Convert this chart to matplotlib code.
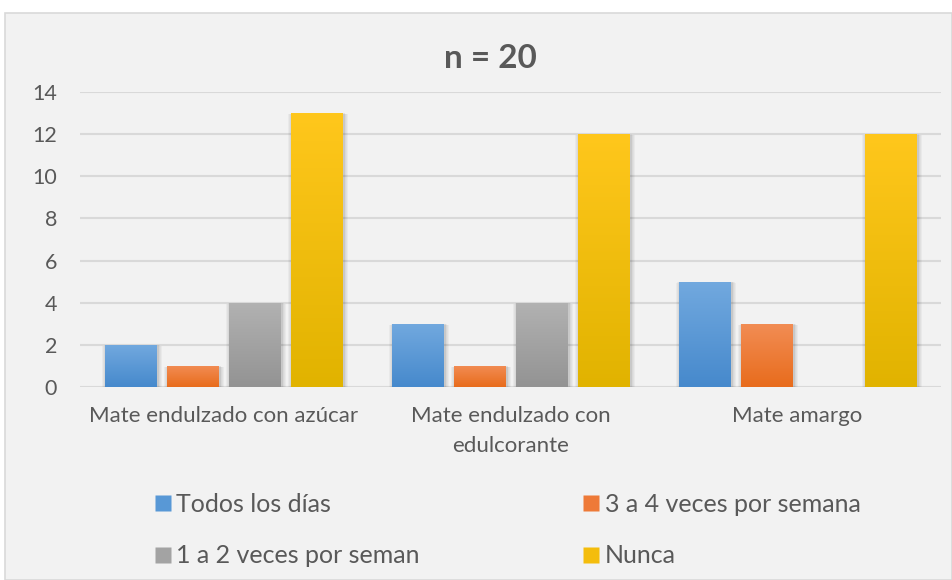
import matplotlib
matplotlib.use("Agg")
import matplotlib.pyplot as plt
import numpy as np
from matplotlib.colors import LinearSegmentedColormap
from matplotlib.patches import Rectangle
from matplotlib.lines import Line2D

plt.rcParams['font.family'] = ['Lato', 'DejaVu Sans']

categories = ["Mate endulzado con azúcar", "Mate endulzado con\nedulcorante", "Mate amargo"]
series_names = ["Todos los días", "3 a 4 veces por semana", "1 a 2 veces por seman", "Nunca"]
todos_los_dias = [2, 3, 5]
tres_a_cuatro = [1, 1, 3]
uno_a_dos = [4, 4, 0]
nunca = [13, 12, 12]
series_values = [todos_los_dias, tres_a_cuatro, uno_a_dos, nunca]
yticks = [0, 2, 4, 6, 8, 10, 12, 14]

# gradient (top colour, bottom colour) for each series
gradients = [("#72a9df", "#4689cc"),
             ("#f28d55", "#e86c1c"),
             ("#b2b2b2", "#939393"),
             ("#ffc71c", "#e1b300")]
legend_colors = ["#5898d6", "#ee7a38", "#a3a3a3", "#f4bd0c"]

W, H = 952, 580
fig = plt.figure(figsize=(W / 100, H / 100), dpi=100, facecolor="white")

# chart frame
frame = Rectangle((5 / W, 0), 1 - 5 / W, (H - 13) / H, transform=fig.transFigure,
                  facecolor="#f2f2f2", edgecolor="#d9d9d9", linewidth=1.2, zorder=-10)
fig.patches.append(frame)

ax = fig.add_axes([80 / W, 193 / H, (941 - 80) / W, (488 - 193) / H])
ax.set_facecolor("none")
ax.set_zorder(1)
for s in ax.spines.values():
    s.set_visible(False)

ax.set_xlim(-0.5, 2.5)
ax.set_ylim(0, 14)
ax.set_yticks(yticks)
ax.set_yticklabels([str(t) for t in yticks])
ax.tick_params(axis="y", length=0, pad=16.5, labelsize=15.5, labelcolor="#595959")
ax.tick_params(axis="x", length=0, pad=14, labelsize=16, labelcolor="#595959")
ax.set_xticks(range(len(categories)))
ax.set_xticklabels(categories, linespacing=1.6)
ax.yaxis.grid(True, color="#d9d9d9", linewidth=1.5, zorder=0)
ax.set_axisbelow(True)

step = 0.216
width = 0.18
offsets = (np.arange(len(series_names)) - 1.5) * step
grad = np.linspace(1, 0, 256).reshape(-1, 1)
px_x = 3 / 861
px_y = 14 / 295

for si, vals in enumerate(series_values):
    cmap = LinearSegmentedColormap.from_list("g%d" % si, [gradients[si][1], gradients[si][0]])
    for ci, v in enumerate(vals):
        if v <= 0:
            continue
        x0 = ci + offsets[si] - width / 2
        # soft shadow
        for k in range(1, 6):
            sh = Rectangle((x0 + 1.5 * px_x - k * px_x * 0.8, -k * px_y * 0.6),
                           width + 2 * k * px_x * 0.8, v + k * px_y * 0.4,
                           facecolor="black", edgecolor="none", alpha=0.035, zorder=2)
            ax.add_patch(sh)
        rect = Rectangle((x0, 0), width, v, facecolor="none", edgecolor="none", zorder=3)
        ax.add_patch(rect)
        im = ax.imshow(grad, extent=[x0, x0 + width, 0, v], cmap=cmap, vmin=0, vmax=1,
                       aspect="auto", interpolation="bilinear", zorder=3)
        im.set_clip_path(rect)

ax.set_xlim(-0.5, 2.5)
ax.set_ylim(0, 14)

fig.text(490 / W, (H - 58) / H, "n = 20", ha="center", va="center",
         fontsize=24, fontweight="bold", color="#595959")

# legend in two columns, filled row by row
order = [0, 2, 1, 3]
handles = [Line2D([], [], marker="s", linestyle="none", markersize=12,
                  markerfacecolor=legend_colors[i], markeredgecolor="none") for i in order]
labels = [series_names[i] for i in order]
leg = fig.legend(handles, labels, loc="center left", ncol=2,
                 bbox_to_anchor=(130 / W, (H - 530) / H), frameon=False,
                 fontsize=18, labelcolor="#595959", handletextpad=0.15,
                 columnspacing=6.45, labelspacing=1.15, handlelength=0.8)

fig.savefig("out.png", dpi=100, facecolor="white")
